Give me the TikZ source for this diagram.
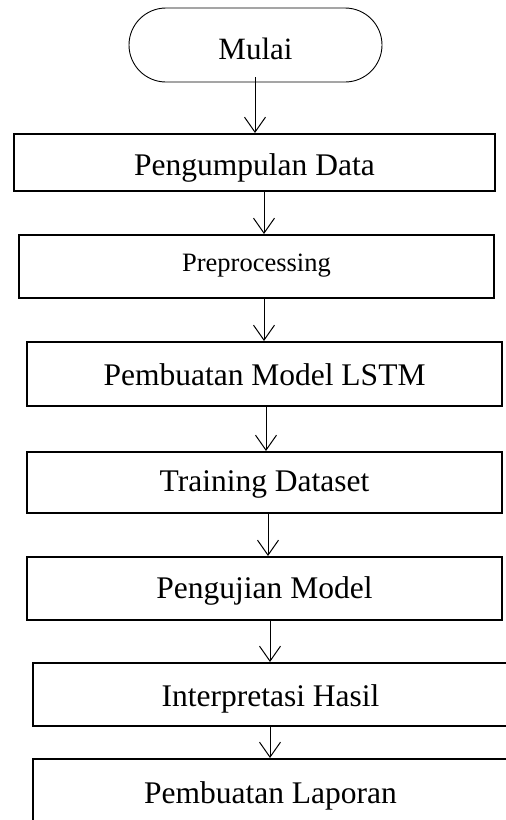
\documentclass[tikz,border=0pt]{standalone}
\usepackage{fontspec}
\setmainfont{Liberation Serif}
\usetikzlibrary{arrows.meta,shapes.misc}
\begin{document}
\begin{tikzpicture}[x=1pt,y=-1pt,
  box/.style={draw=black, line width=2pt, rectangle, minimum width=475pt, minimum height=63pt, inner sep=0pt, font=\fontsize{31.5}{36}\selectfont, text depth=0pt},
  term/.style={draw=black, line width=0.9pt, rounded rectangle, minimum width=253pt, minimum height=74pt, inner sep=0pt, font=\fontsize{31}{36}\selectfont, text depth=0pt},
  bl/.style={text height=#1},
  arr/.style={draw=black, line width=1pt, -{Straight Barb[length=15pt,width=21pt,line width=1pt]}}
]
\useasboundingbox (0,0) rectangle (506,820);
\node[term, bl=28pt] (t0) at (255.5,45) {Mulai};
\node[box, minimum width=481pt, minimum height=57pt, bl=25pt] (b1) at (254.5,162.5) {Pengumpulan Data};
\node[box, bl=10.5pt, font=\fontsize{26.5}{30}\selectfont] (b2) at (256.5,266.5) {Preprocessing};
\node[box, minimum height=64pt, bl=22pt] (b3) at (264.5,374) {Pembuatan Model LSTM};
\node[box, minimum height=61pt, bl=18.5pt] (b4) at (264.5,482.5) {Training Dataset};
\node[box, bl=19pt] (b5) at (264.5,588.5) {Pengujian Model};
\node[box, bl=24.5pt] (b6) at (270.5,694.5) {Interpretasi Hasil};
\node[box, bl=25pt] (b7) at (270.5,790.5) {Pembuatan Laporan};
\draw[arr] (t0.south -| 255,0) ++(0,-5) -- (b1.north -| 255,0);
\draw[arr] (b1.south -| 264,0) -- (b2.north -| 264,0);
\draw[arr] (b2.south -| 264,0) -- (b3.north -| 264,0);
\draw[arr] (b3.south -| 266,0) -- (b4.north -| 266,0);
\draw[arr] (b4.south -| 268,0) -- (b5.north -| 268,0);
\draw[arr] (b5.south -| 270,0) -- (b6.north -| 270,0);
\draw[arr] (b6.south -| 270,0) -- (b7.north -| 270,0);
\end{tikzpicture}
\end{document}
